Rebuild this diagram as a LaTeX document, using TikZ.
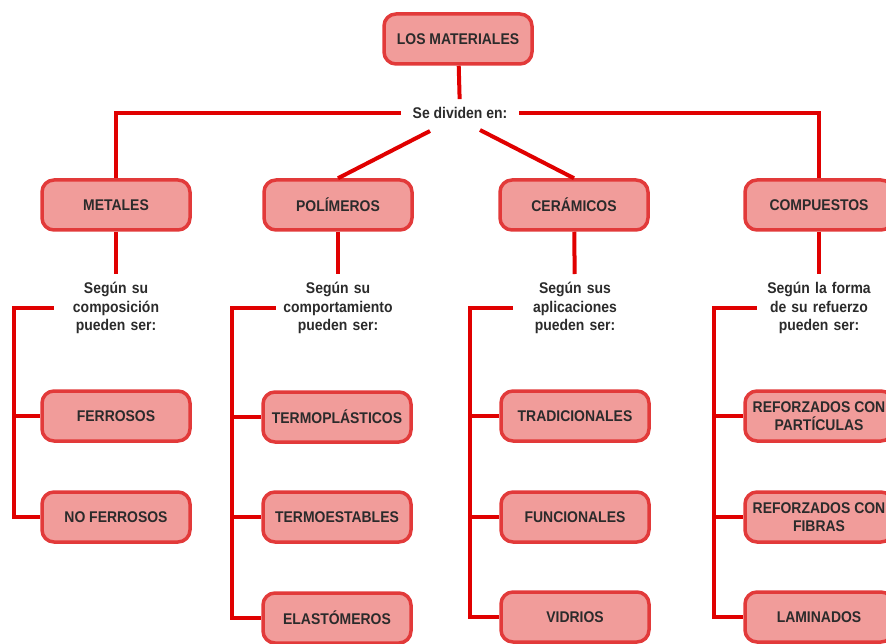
\documentclass[tikz,border=0pt]{standalone}
\usepackage{fontspec}
\setmainfont{Liberation Sans}[FakeStretch=0.9]
\usepackage{xcolor}
\usetikzlibrary{positioning, calc}

\definecolor{rojo}{HTML}{E00000}
\definecolor{borde}{HTML}{E23A3A}
\definecolor{relleno}{HTML}{F19C9A}
\definecolor{letra}{HTML}{2B2B2B}

\begin{document}
\begin{tikzpicture}[x=1pt,y=-1pt,
    caja/.style={draw=borde, fill=relleno, line width=3.5pt, rounded corners=12pt,
        minimum width=148pt, minimum height=50pt, align=center, text=letra,
        font=\bfseries\fontsize{15.5}{18}\selectfont},
    texto/.style={align=center, text=letra, inner ysep=8pt,
        font=\bfseries\fontsize{15.5}{18.5}\selectfont},
    subtexto/.style={texto, text width=124pt, inner xsep=0pt},
    linea/.style={draw=rojo, line width=4pt}]
    \useasboundingbox (0,0) rectangle (886,644);

    % Raiz
    \node[caja] (mat) at (458,39) {LOS MATERIALES};
    \node[texto, inner xsep=12pt] (divide) at (460,113) {Se dividen en:};
    \coordinate (dl) at (430,131);
    \coordinate (dr) at (480,130);

    % Tipos de materiales
    \node[caja] (met)  at (116,205) {METALES};
    \node[caja] (pol)  at (338,205) {POLÍMEROS};
    \node[caja] (cer)  at (574,205) {CERÁMICOS};
    \node[caja] (comp) at (819,205) {COMPUESTOS};

    % Criterios
    \node[subtexto] (tmet)  at (116,308) {Según su\\composición\\pueden ser:};
    \node[subtexto] (tpol)  at (338,308) {Según su\\comportamiento\\pueden ser:};
    \node[subtexto] (tcer)  at (575,308) {Según sus\\aplicaciones\\pueden ser:};
    \node[subtexto] (tcomp) at (819,308) {Según la forma\\de su refuerzo\\pueden ser:};

    % Clases
    \node[caja] (ferr)   at (116,416) {FERROSOS};
    \node[caja] (noferr) at (116,517) {NO FERROSOS};
    \node[caja] (tplas)  at (337,417) {TERMOPLÁSTICOS};
    \node[caja] (test)   at (337,517) {TERMOESTABLES};
    \node[caja] (elas)   at (337,618) {ELASTÓMEROS};
    \node[caja] (trad)   at (575,416) {TRADICIONALES};
    \node[caja] (func)   at (575,517) {FUNCIONALES};
    \node[caja] (vid)    at (575,617) {VIDRIOS};
    \node[caja] (rpart)  at (819,416) {REFORZADOS CON\\PARTÍCULAS};
    \node[caja] (rfib)   at (819,517) {REFORZADOS CON\\FIBRAS};
    \node[caja] (lam)    at (819,617) {LAMINADOS};

    % Tronco
    \draw[linea] (mat) -- (divide);
    \draw[linea] (divide.west) -| (met);
    \draw[linea] (divide.east) -| (comp);
    \draw[linea] (dl) -- (pol.north);
    \draw[linea] (dr) -- (cer.north);

    % Tallos
    \foreach \a/\b in {met/tmet, pol/tpol, cer/tcer, comp/tcomp}
        \draw[linea] (\a) -- (\b);

    % Corchetes
    \coordinate (cmet)  at (14,308);
    \coordinate (cpol)  at (232,308);
    \coordinate (ccer)  at (470,308);
    \coordinate (ccomp) at (714,308);
    \draw[linea] (tmet.west) -- (cmet) |- (noferr.west);
    \draw[linea] (cmet |- ferr) -- (ferr.west);
    \draw[linea] (tpol.west) -- (cpol) |- (elas.west);
    \foreach \n in {tplas, test}
        \draw[linea] (cpol |- \n) -- (\n.west);
    \draw[linea] (tcer.west) -- (ccer) |- (vid.west);
    \foreach \n in {trad, func}
        \draw[linea] (ccer |- \n) -- (\n.west);
    \draw[linea] (tcomp.west) -- (ccomp) |- (lam.west);
    \foreach \n in {rpart, rfib}
        \draw[linea] (ccomp |- \n) -- (\n.west);
\end{tikzpicture}
\end{document}
